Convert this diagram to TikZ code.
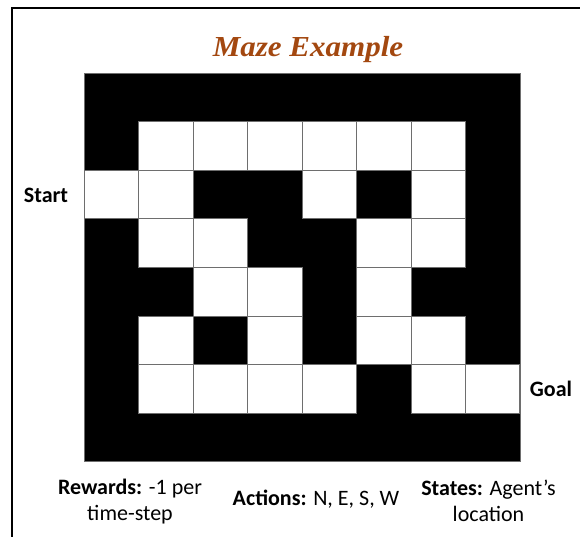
\documentclass[tikz,border=0pt]{standalone}
\usepackage{fontspec}
\setmainfont{Carlito}
\newfontfamily\titlefont{Liberation Serif}
\definecolor{titlebrown}{RGB}{163,72,16}
\definecolor{cellgray}{RGB}{110,110,110}
\begin{document}
\begin{tikzpicture}[x=1pt,y=-1pt,
  cell/.style={fill=white,draw=cellgray,line width=1pt},
  lbl/.style={inner sep=0pt,font=\fontsize{22}{26}\selectfont\bfseries},
  note/.style={inner sep=0pt,align=center,font=\fontsize{22}{26}\selectfont},
  frameline/.style={line width=2pt,draw=black}]
\useasboundingbox (0,0) rectangle (580,536);
\pgfmathsetmacro{\xo}{84.3}
\pgfmathsetmacro{\yo}{73.3}
\pgfmathsetmacro{\cw}{54.46}
\pgfmathsetmacro{\rh}{48.55}
% frame
\coordinate (ftr) at (580,7.5);
\coordinate (ftl) at (12,7.5);
\coordinate (fbl) at (12,537);
\draw[frameline] (ftr) -- (ftl) -- (fbl);
% title
\node[inner sep=0pt,anchor=base,text=titlebrown,xscale=1.07,
  font=\titlefont\fontsize{29}{34}\selectfont\bfseries\itshape] (title) at (308,56.7) {Maze Example};
% maze background
\fill[black,draw=cellgray,line width=0.8pt] (\xo,\yo) rectangle ({\xo+8*\cw},{\yo+8*\rh});
% white cells
\foreach \c/\r in {1/1,2/1,3/1,4/1,5/1,6/1,
                   0/2,1/2,4/2,6/2,
                   1/3,2/3,5/3,6/3,
                   2/4,3/4,5/4,
                   1/5,3/5,5/5,6/5,
                   1/6,2/6,3/6,4/6,6/6,7/6}{
  \draw[cell] ({\xo+\c*\cw},{\yo+\r*\rh}) rectangle ({\xo+(\c+1)*\cw},{\yo+(\r+1)*\rh});
}
% labels
\node[lbl,anchor=base] (start) at (46,202.3) {Start};
\node[lbl,anchor=base] (goal) at (551,396.7) {Goal};
\node[note,anchor=base] (rewards) at (130,520.5) {\textbf{Rewards:} -1 per\\time-step};
\node[note,anchor=base] (actions) at (316,505.5) {\textbf{Actions:} N, E, S, W};
\node[note,anchor=base] (states) at (488.5,521.5) {\textbf{States:} Agent’s\\location};
\end{tikzpicture}
\end{document}
